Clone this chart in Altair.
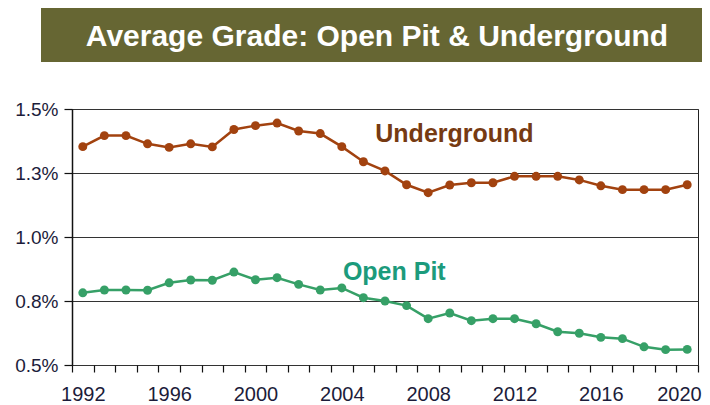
import altair as alt
import pandas as pd

years = list(range(1992, 2021))
underground = [1.353, 1.396, 1.396, 1.364, 1.350, 1.364, 1.352, 1.420, 1.435, 1.445,
               1.414, 1.404, 1.353, 1.294, 1.258, 1.204, 1.173, 1.203, 1.212, 1.212,
               1.237, 1.237, 1.237, 1.223, 1.200, 1.185, 1.185, 1.185, 1.204]
open_pit = [0.782, 0.793, 0.793, 0.792, 0.821, 0.832, 0.831, 0.863, 0.833, 0.841,
            0.815, 0.793, 0.801, 0.763, 0.750, 0.732, 0.681, 0.703, 0.673, 0.681,
            0.681, 0.661, 0.630, 0.624, 0.608, 0.603, 0.571, 0.560, 0.561]
series_names = ["Underground", "Open Pit"]
line_colors = ["#A2420F", "#36A067"]
label_colors = ["#763A12", "#1C9B7C"]
label_x = [2005.55, 2004.05]
label_y = [1.371, 0.832]
y_ticks = [0.5, 0.75, 1.0, 1.25, 1.5]
title_text = "Average Grade: Open Pit & Underground"

rows = []
for name, vals in zip(series_names, [underground, open_pit]):
    for yr, v in zip(years, vals):
        rows.append({"year": yr, "grade": v, "series": name})
df = pd.DataFrame(rows)
labels_df = pd.DataFrame({"series": series_names, "year": label_x, "grade": label_y,
                          "color": label_colors})

x_vals = sorted([y - 0.5 for y in years] + [years[-1] + 0.5] + [y for y in years if y % 4 == 0])

x_scale = alt.Scale(domain=[1991.5, 2020.5], nice=False, zero=False)
y_scale = alt.Scale(domain=[0.5, 1.5], nice=False, zero=False)

x_axis = alt.Axis(
    values=x_vals,
    labelExpr="datum.value % 4 == 0 ? '' + datum.value : ''",
    tickOpacity={"condition": {"test": "datum.value % 1 != 0", "value": 1}, "value": 0},
    labelAlign={"condition": {"test": "datum.value == 2020", "value": "right"}, "value": "center"},
    labelOffset={"condition": {"test": "datum.value == 2020", "value": 14}, "value": 0},
    tickSize=7, tickColor="#111111", tickWidth=1.2,
    labelFontSize=20, labelFont="Liberation Sans", labelColor="#1c1c3a",
    labelPadding=12, labelOverlap=False, labelFlush=False, labelBound=False,
    grid=False, domain=False, title=None,
)
y_axis = alt.Axis(
    values=y_ticks,
    labelExpr="format(datum.value, '.1f') + '%'",
    tickSize=8, tickColor="#111111", tickWidth=1.2,
    domainColor="#111111", domainWidth=1.5,
    gridColor="#333333", gridWidth=1,
    labelFontSize=19, labelFont="Liberation Sans", labelColor="#1c1c3a",
    labelPadding=6, title=None,
)

X = alt.X("year:Q", scale=x_scale, axis=x_axis)
Y = alt.Y("grade:Q", scale=y_scale, axis=y_axis)
color_scale = alt.Scale(domain=series_names, range=line_colors)
C = alt.Color("series:N", scale=color_scale, legend=None)

base = alt.Chart(df)
lines = base.mark_line(strokeWidth=2.5).encode(x=X, y=Y, color=C)
points = base.mark_circle(size=80, opacity=1).encode(x=X, y=Y, color=C)
texts = alt.Chart(labels_df).mark_text(
    align="left", baseline="alphabetic", fontSize=25, fontWeight="bold",
    font="Liberation Sans",
).encode(
    x=X, y=Y,
    text="series:N",
    color=alt.Color("color:N", scale=None, legend=None),
)

one = pd.DataFrame({"t": [title_text]})
banner = alt.Chart(one).mark_rect(color="#666633").encode(
    x=alt.value(-31), x2=alt.value(636), y=alt.value(-102), y2=alt.value(-47)
)
title = alt.Chart(one).mark_text(
    align="center", baseline="alphabetic", fontSize=30, fontWeight="bold",
    font="Liberation Sans", color="white",
).encode(x=alt.value(305), y=alt.value(-63), text="t:N")

chart = alt.layer(banner, title, lines, points, texts).properties(
    width=626, height=256,
    padding={"left": 64, "top": 101, "right": 4, "bottom": 40},
    autosize=alt.AutoSizeParams(type="none"),
).configure_view(stroke="#222222", strokeWidth=1)

chart.save("out.html", embed_options={"renderer": "svg", "actions": False})
